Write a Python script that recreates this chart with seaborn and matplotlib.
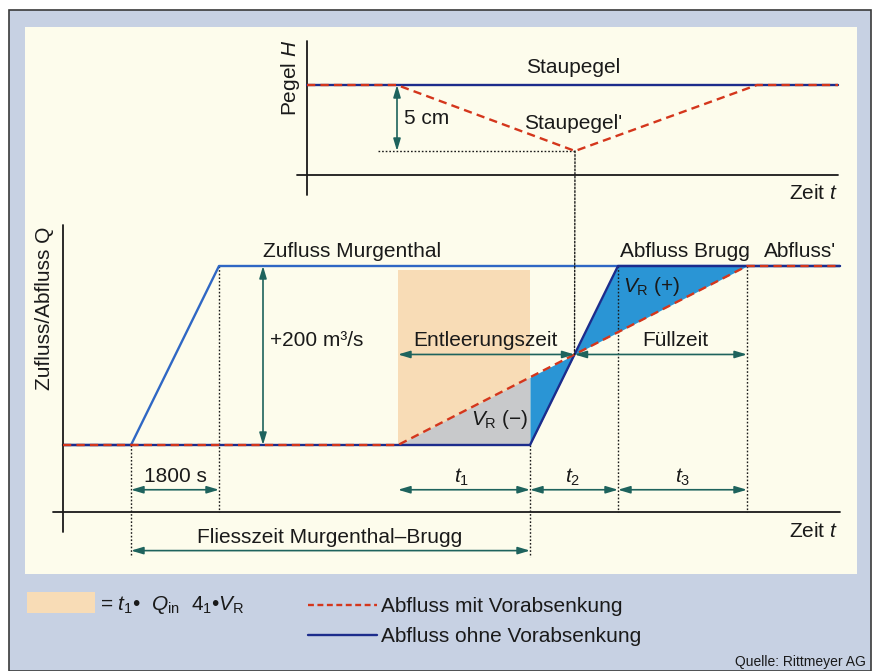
"""Schematic: Vorabsenkung eines Staupegels und Abflussganglinien."""

import matplotlib

matplotlib.use("Agg")

import matplotlib.pyplot as plt
import numpy as np
import seaborn as sns
from matplotlib.lines import Line2D
from matplotlib.patches import ConnectionPatch, Patch, Rectangle

# --- data (schematic time units, Q in m3/s, H in cm) ---
zufluss_t = [0.0, 6.8, 15.6, 77.7]
zufluss_q = [0, 0, 200, 200]
abfluss_t = [0.0, 46.7, 55.5, 77.7]
abfluss_q = [0, 0, 200, 200]
vor_t = [0.0, 33.5, 68.4, 77.7]
vor_q = [0, 0, 200, 200]
pegel_t = [24.4, 77.5]
pegel_h = [0, 0]
pegel_vor_t = [24.4, 33.4, 51.2, 69.4, 77.5]
pegel_vor_h = [0, 0, -5, 0, 0]

# pixel mapping for the full-figure axes
W, H = 876, 671
T0_PX, PX_PER_T = 63, 10.0
Q0_PY, PX_PER_Q = 445, 0.895
H0_PY, PX_PER_CM = 85, 13.2

NAVY = "#1c2c8c"
BLUE = "#2f67c4"
RED = "#d4361c"
FILL_BLUE = "#2a95d5"
GRAY = "#c8c9cb"
PEACH = "#f8dcb6"
TEAL = "#1e635d"
INK = "#1a1a1a"
CREAM = "#fdfcec"
BACK = "#c7d1e3"

sns.set_theme(style="white")
plt.rcParams["font.family"] = ["Liberation Sans", "DejaVu Sans"]
plt.rcParams["mathtext.fontset"] = "custom"
plt.rcParams["mathtext.rm"] = "Liberation Sans"
plt.rcParams["mathtext.it"] = "Liberation Sans:italic"
plt.rcParams["mathtext.bf"] = "Liberation Sans:bold"

fig = plt.figure(figsize=(W / 100, H / 100), dpi=100)
fig.patch.set_facecolor("white")


def fx(px):
    return px / W


def fy(py):
    return 1 - py / H


# page background
fig.patches.append(Rectangle((fx(9), 0), fx(871) - fx(9), fy(10), transform=fig.transFigure,
                             facecolor=BACK, edgecolor="#3a3a3a", lw=1.2, zorder=-10))
fig.patches.append(Rectangle((fx(25), fy(574)), fx(857) - fx(25), fy(27) - fy(574),
                             transform=fig.transFigure, facecolor=CREAM, edgecolor="none", zorder=-9))

xlim = (-T0_PX / PX_PER_T, (W - T0_PX) / PX_PER_T)
ax = fig.add_axes([0, 0, 1, 1])
ax.set_xlim(*xlim)
ax.set_ylim((Q0_PY - H) / PX_PER_Q, Q0_PY / PX_PER_Q)
ax.set_axis_off()
ax.patch.set_alpha(0)

axt = fig.add_axes([0, 0, 1, 1])
axt.set_xlim(*xlim)
axt.set_ylim((H0_PY - H) / PX_PER_CM, H0_PY / PX_PER_CM)
axt.set_axis_off()
axt.patch.set_alpha(0)

fs = 15
lw = 1.7
dash = (0, (3.5, 2.2))

# ---------- bottom chart: Zufluss / Abfluss ----------
# crossing of both ramps
s_v = (vor_q[2] - vor_q[1]) / (vor_t[2] - vor_t[1])
s_a = (abfluss_q[2] - abfluss_q[1]) / (abfluss_t[2] - abfluss_t[1])
t_x = (s_a * abfluss_t[1] - s_v * vor_t[1]) / (s_a - s_v)
q_x = s_v * (t_x - vor_t[1])

ax.fill_between([vor_t[1], abfluss_t[1]], 0, 196, color=PEACH, lw=0, zorder=1)
gx = [vor_t[1], abfluss_t[1]]
ax.fill_between(gx, 0, np.interp(gx, vor_t, vor_q), color=GRAY, lw=0, zorder=2)
bx = [abfluss_t[1], t_x, abfluss_t[2], vor_t[2]]
ax.fill_between(bx, np.interp(bx, vor_t, vor_q), np.interp(bx, abfluss_t, abfluss_q),
                color=FILL_BLUE, lw=0, zorder=2)

sns.lineplot(x=zufluss_t, y=zufluss_q, ax=ax, color=BLUE, lw=lw, zorder=3)
sns.lineplot(x=abfluss_t, y=abfluss_q, ax=ax, color=NAVY, lw=lw, zorder=3)
sns.lineplot(x=vor_t, y=vor_q, ax=ax, color=RED, lw=lw, zorder=4, linestyle=dash)

# axis lines
q_axis = -75
ax.plot([0, 0], [-97, 246], color=INK, lw=1.3, zorder=3)
ax.plot([-1, zufluss_t[-1]], [q_axis, q_axis], color=INK, lw=1.3, zorder=3)

dot = dict(color=INK, lw=1.0, linestyle=(0, (1.2, 1.4)), zorder=2)
ax.plot([zufluss_t[1]] * 2, [0, -125], **dot)
ax.plot([zufluss_t[2]] * 2, [200, q_axis], **dot)
ax.plot([abfluss_t[1]] * 2, [0, -125], **dot)
ax.plot([abfluss_t[2]] * 2, [200, q_axis], **dot)
ax.plot([vor_t[2]] * 2, [200, q_axis], **dot)


def darrow(a, x0, y0, x1, y1):
    a.annotate("", xy=(x1, y1), xytext=(x0, y0),
               arrowprops=dict(arrowstyle="<|-|>,head_length=0.6,head_width=0.18",
                               color=TEAL, lw=1.2, shrinkA=0, shrinkB=0), zorder=5)


darrow(ax, 20.0, 200, 20.0, 0)
darrow(ax, zufluss_t[1], -50, zufluss_t[2], -50)
darrow(ax, vor_t[1], q_x, t_x, q_x)
darrow(ax, t_x, q_x, vor_t[2], q_x)
darrow(ax, vor_t[1], -50, abfluss_t[1], -50)
darrow(ax, abfluss_t[1], -50, abfluss_t[2], -50)
darrow(ax, abfluss_t[2], -50, vor_t[2], -50)
darrow(ax, zufluss_t[1], -118, abfluss_t[1], -118)

txt = dict(color=INK, fontsize=fs, va="center", ha="center", zorder=6)
ax.text(28.9, 216, "Zufluss Murgenthal", **txt)
ax.text(20.7, 117, "+200 m³/s", **{**txt, "ha": "left"})
ax.text(42.2, 117, "Entleerungszeit", **txt)
ax.text(61.2, 117, "Füllzeit", **txt)
ax.text(62.2, 216, "Abfluss Brugg", **txt)
ax.text(73.7, 216, "Abfluss'", **txt)
ax.text(58.9, 177, r"$V_{\mathrm{R}}$ (+)", **txt)
ax.text(43.7, 28, r"$V_{\mathrm{R}}$ (−)", **txt)
ax.text(11.2, -35, "1800 s", **txt)
ax.text(39.9, -36, r"$t_1$", **txt)
ax.text(51.0, -36, r"$t_2$", **txt)
ax.text(62.0, -36, r"$t_3$", **txt)
ax.text(26.7, -103, "Fliesszeit Murgenthal–Brugg", **txt)
ax.text(77.5, -97, r"Zeit $t$", **{**txt, "ha": "right"})
ax.text(-1.8, 153, "Zufluss/Abfluss Q", rotation=90, **txt)

# ---------- top chart: Pegel ----------
sns.lineplot(x=pegel_t, y=pegel_h, ax=axt, color=NAVY, lw=lw, zorder=3)
sns.lineplot(x=pegel_vor_t, y=pegel_vor_h, ax=axt, color=RED, lw=lw, zorder=4, linestyle=dash)
axt.plot([pegel_t[0]] * 2, [3.3, -8.3], color=INK, lw=1.3)
axt.plot([23.4, pegel_t[-1]], [-6.8, -6.8], color=INK, lw=1.3)
axt.plot([31.5, pegel_vor_t[2]], [-5, -5], **dot)
darrow(axt, pegel_vor_t[1], 0, pegel_vor_t[1], -5)

axt.text(51.0, 1.3, "Staupegel", **txt)
axt.text(51.0, -2.9, "Staupegel'", **txt)
axt.text(34.1, -2.5, "5 cm", **{**txt, "ha": "left"})
axt.text(22.7, 0.55, r"Pegel $H$", rotation=90, **txt)
axt.text(77.5, -8.2, r"Zeit $t$", **{**txt, "ha": "right"})

con = ConnectionPatch(xyA=(pegel_vor_t[2], -5), coordsA=axt.transData,
                      xyB=(t_x, q_x), coordsB=ax.transData, **dot)
fig.add_artist(con)

# ---------- legend ----------
leg1 = fig.legend(handles=[Patch(facecolor=PEACH, edgecolor="none")],
                  labels=[r"= $t_1$•  $Q_{\mathrm{in}}$  4$_1$•$V_{\mathrm{R}}$"],
                  loc="center left", bbox_to_anchor=(fx(27), fy(604)), frameon=False,
                  fontsize=fs, handlelength=3.27, handleheight=1.15, handletextpad=0.25,
                  borderpad=0, borderaxespad=0)
leg2 = fig.legend(handles=[Line2D([], [], color=RED, lw=lw, linestyle=(0, (2.5, 1.5))),
                           Line2D([], [], color=NAVY, lw=lw)],
                  labels=["Abfluss mit Vorabsenkung", "Abfluss ohne Vorabsenkung"],
                  loc="upper left", bbox_to_anchor=(fx(308), fy(597)), frameon=False,
                  fontsize=fs, handlelength=3.3, handletextpad=0.2, labelspacing=0.55,
                  borderpad=0, borderaxespad=0)
for lg in (leg1, leg2):
    for t in lg.get_texts():
        t.set_color(INK)

fig.text(fx(866), fy(662), "Quelle: Rittmeyer AG", ha="right", va="center",
         fontsize=10, color=INK)

fig.savefig("out.png", dpi=100)
